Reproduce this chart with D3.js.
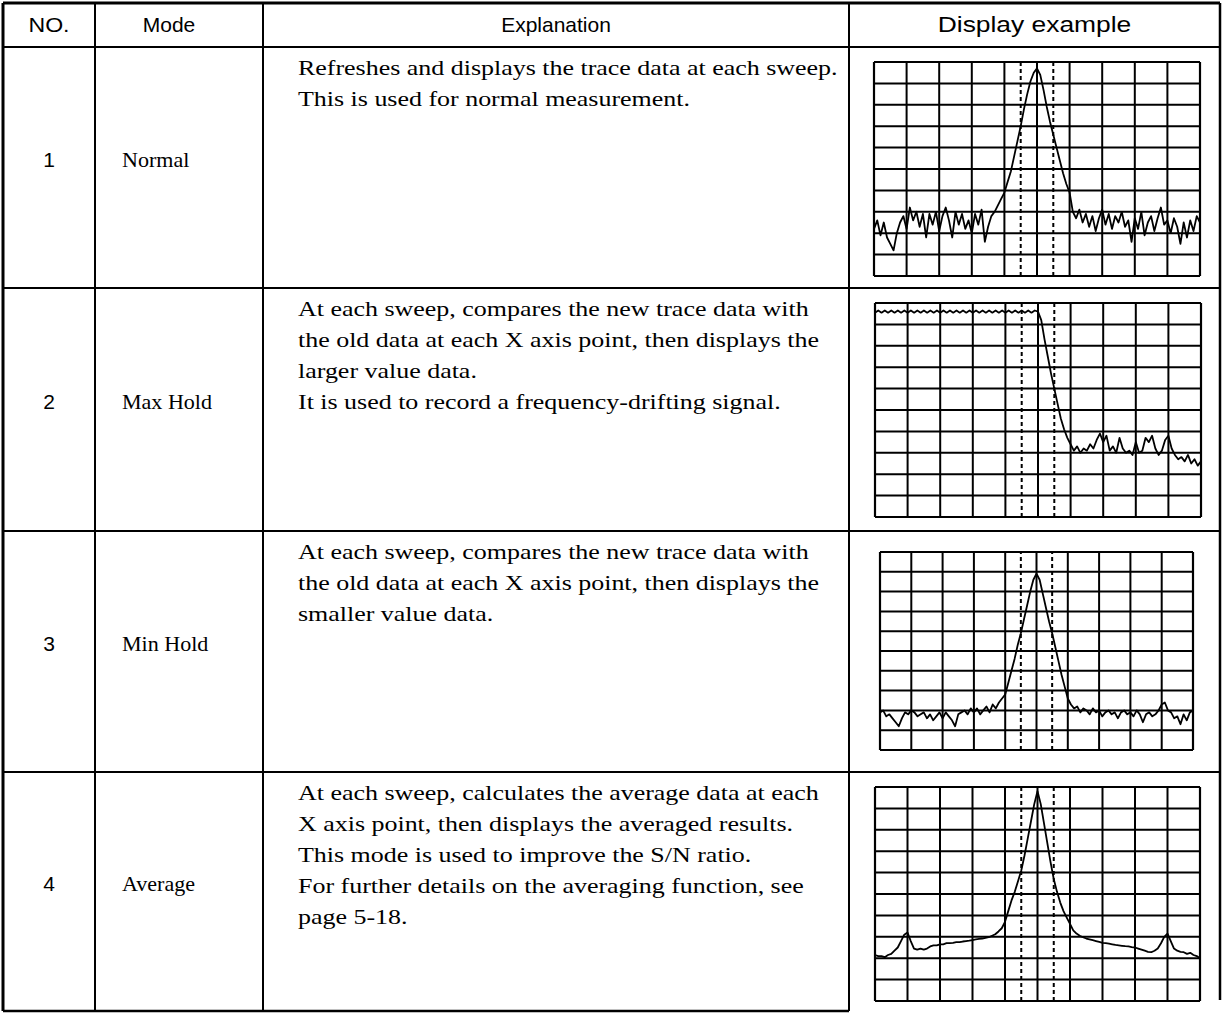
<!DOCTYPE html>
<html><head><meta charset="utf-8">
<script src="https://cdn.jsdelivr.net/npm/d3@7"></script>
<style>html,body{margin:0;padding:0;background:#fff;}svg{display:block;}</style>
</head><body>
<script>
// ---------- data ----------
const headers = ["NO.", "Mode", "Explanation", "Display example"];
const numbers = ["1", "2", "3", "4"];
const modes = ["Normal", "Max Hold", "Min Hold", "Average"];
const explanations = [
  ["Refreshes and displays the trace data at each sweep.",
   "This is used for normal measurement."],
  ["At each sweep, compares the new trace data with",
   "the old data at each X axis point, then displays the",
   "larger value data.",
   "It is used to record a frequency-drifting signal."],
  ["At each sweep, compares the new trace data with",
   "the old data at each X axis point, then displays the",
   "smaller value data."],
  ["At each sweep, calculates the average data at each",
   "X axis point, then displays the averaged results.",
   "This mode is used to improve the S/N ratio.",
   "For further details on the averaging function, see",
   "page 5-18."]
];
// trace levels in divisions above the bottom graticule line, one per 0.1 division (0..10)
const traceNormal = [2.2,2.6,1.9,2.5,1.8,1.5,1.2,2.0,2.5,2.8,2.2,3.2,2.6,3.0,2.3,2.9,1.8,2.9,2.4,3.0,
  2.1,2.8,3.2,2.6,1.8,3.0,2.4,2.9,2.2,2.6,2.0,2.9,2.4,3.1,1.6,2.3,2.8,3.0,3.3,3.6,
  3.9,4.4,4.9,5.6,6.3,7.0,7.8,8.5,9.1,9.5,9.7,9.4,8.7,7.9,7.2,6.6,6.0,5.4,4.8,4.3,
  3.9,3.0,2.7,3.1,2.5,2.9,2.3,2.8,2.1,2.7,3.1,2.4,2.9,2.2,2.8,2.5,3.0,2.3,2.6,1.6,
  2.7,2.2,3.0,1.9,2.5,2.8,2.1,2.7,3.2,2.4,2.6,2.0,2.7,2.3,1.5,2.5,1.8,2.6,2.1,2.8,2.5];
const traceMaxHold = [9.55,9.65,9.55,9.65,9.55,9.65,9.55,9.65,9.55,9.65,9.55,9.65,9.55,9.65,9.55,9.65,9.55,9.65,9.55,9.65,
  9.55,9.65,9.55,9.65,9.55,9.65,9.55,9.65,9.55,9.65,9.55,9.65,9.55,9.65,9.55,9.65,9.55,9.65,9.55,9.65,
  9.55,9.65,9.55,9.65,9.55,9.65,9.55,9.65,9.55,9.65,9.6,9.2,8.3,7.5,6.7,6.0,5.3,4.6,4.1,3.7,
  3.4,3.1,3.3,3.0,3.2,3.1,3.4,3.2,3.6,3.9,3.5,3.8,3.1,3.3,3.0,3.7,3.2,3.0,3.1,2.9,
  3.5,3.0,3.1,3.7,3.5,3.8,3.2,2.9,3.1,3.6,3.8,3.2,2.9,2.7,2.8,2.6,2.9,2.5,2.7,2.4,2.6];
const traceMinHold = [1.9,2.0,1.7,1.8,1.6,1.4,1.2,1.6,1.9,1.8,2.0,1.9,1.7,1.8,1.9,1.6,1.8,1.5,1.7,1.9,
  1.6,1.9,1.7,1.5,1.2,1.8,1.9,2.0,1.8,2.1,1.9,2.1,1.8,2.0,2.2,1.9,2.3,2.1,2.4,2.6,
  2.8,3.4,4.0,4.6,5.3,5.9,6.6,7.3,8.0,8.6,8.9,8.6,7.9,7.2,6.5,5.9,5.2,4.5,3.8,3.2,
  2.6,2.3,2.1,2.2,1.9,2.1,2.0,1.8,2.1,1.9,2.0,1.7,1.9,2.0,1.8,1.9,1.6,1.9,2.0,1.8,
  1.9,1.7,2.0,1.8,1.4,1.8,1.9,1.7,1.8,2.0,2.3,2.4,2.0,1.9,1.6,1.7,1.3,1.8,1.5,1.9,2.0];
const traceAverage = [2.15,2.1,2.1,2.05,2.15,2.2,2.35,2.5,2.8,3.1,3.2,2.8,2.45,2.4,2.45,2.4,2.45,2.55,2.6,2.6,
  2.65,2.65,2.7,2.7,2.72,2.75,2.75,2.78,2.8,2.82,2.85,2.88,2.9,2.92,2.95,2.98,3.05,3.12,3.25,3.4,
  3.7,4.2,4.7,5.1,5.6,6.1,6.8,7.6,8.4,9.2,9.8,9.2,8.3,7.4,6.5,5.7,5.1,4.6,4.2,3.9,
  3.6,3.3,3.15,3.05,2.98,2.92,2.88,2.84,2.8,2.76,2.72,2.7,2.68,2.65,2.62,2.6,2.58,2.56,2.55,2.52,
  2.5,2.45,2.4,2.35,2.3,2.28,2.35,2.45,2.7,3.0,3.15,2.8,2.45,2.35,2.3,2.28,2.2,2.25,2.15,2.1,2.0];
const traces = [traceNormal, traceMaxHold, traceMinHold, traceAverage];
const gridDivisions = [0,1,2,3,4,5,6,7,8,9,10];
const markerDivisions = [4.5, 5.5];

// ---------- layout ----------
const W = 1225, H = 1014;
const colX = [3, 95, 263, 849, 1220];
const rowY = [3, 47, 288, 531, 772, 1011];
const screens = [
  {x0: 874, x1: 1200, y0: 62,  y1: 276},
  {x0: 875, x1: 1201, y0: 303, y1: 517},
  {x0: 880, x1: 1193, y0: 552, y1: 750},
  {x0: 875, x1: 1200, y0: 787, y1: 1001}
];
const sans = "'Liberation Sans', Arial, sans-serif";
const serif = "'Liberation Serif', 'Times New Roman', serif";
const headerSize = [21, 21, 21, 22], headerStretch = [1.1, 1, 1, 1.2], headerShift = [0, -10, 0, 0];
const bodySize = 22, bodyStretch = 1.18;
const modeSize = 21, modeStretch = 1.05;

const svg = d3.select("body").append("svg").attr("width", W).attr("height", H);
svg.append("rect").attr("width", W).attr("height", H).attr("fill", "#fff");

// table lines
const tl = svg.append("g").attr("stroke", "#000").attr("fill", "none");
tl.append("line").attr("x1", colX[0]).attr("x2", colX[4]).attr("y1", rowY[0]).attr("y2", rowY[0]).attr("stroke-width", 3);
tl.append("line").attr("x1", colX[0]).attr("x2", colX[0]).attr("y1", rowY[0]).attr("y2", rowY[5]).attr("stroke-width", 3);
tl.append("line").attr("x1", colX[4]).attr("x2", colX[4]).attr("y1", rowY[0]).attr("y2", 1000).attr("stroke-width", 2.5);
tl.append("line").attr("x1", colX[0]).attr("x2", colX[3]).attr("y1", rowY[5]).attr("y2", rowY[5]).attr("stroke-width", 2.5);
[1,2,3].forEach(i => tl.append("line").attr("x1", colX[i]).attr("x2", colX[i]).attr("y1", rowY[0]).attr("y2", rowY[5]).attr("stroke-width", 2));
[1,2,3,4].forEach(i => tl.append("line").attr("x1", colX[0]).attr("x2", colX[4]).attr("y1", rowY[i]).attr("y2", rowY[i]).attr("stroke-width", 2));

function stretchedText(x, y, str, family, size, sx, anchor) {
  return svg.append("text").attr("transform", `translate(${x},${y}) scale(${sx},1)`)
    .attr("text-anchor", anchor || "start").attr("font-family", family).attr("font-size", size).text(str);
}

// header
headers.forEach((h, i) => {
  stretchedText((colX[i] + colX[i+1]) / 2 + headerShift[i], (rowY[0] + rowY[1]) / 2 + 7, h, sans, headerSize[i], headerStretch[i], "middle");
});

// rows
numbers.forEach((n, r) => {
  const top = rowY[r+1], bot = rowY[r+2], mid = (top + bot) / 2 - 8;
  stretchedText((colX[0] + colX[1]) / 2, mid + 7, n, sans, 21, 1, "middle");
  stretchedText(122, mid + 7, modes[r], serif, modeSize, modeStretch);
  explanations[r].forEach((line, k) => {
    stretchedText(298, top + 28 + k * 31, line, serif, bodySize, bodyStretch);
  });

  // display example
  const s = screens[r];
  const x = d3.scaleLinear().domain([0, 10]).range([s.x0, s.x1]);
  const y = d3.scaleLinear().domain([0, 10]).range([s.y1, s.y0]);
  const g = svg.append("g");
  g.selectAll("line.h").data(gridDivisions).join("line").attr("class", "h")
    .attr("x1", x(0)).attr("x2", x(10)).attr("y1", d => y(d)).attr("y2", d => y(d))
    .attr("stroke", "#000").attr("stroke-width", d => (d === 0 || d === 10) ? 2.2 : 2);
  g.selectAll("line.v").data(gridDivisions).join("line").attr("class", "v")
    .attr("x1", d => x(d)).attr("x2", d => x(d)).attr("y1", y(0)).attr("y2", y(10))
    .attr("stroke", "#000").attr("stroke-width", d => (d === 0 || d === 10) ? 2.2 : 2);
  g.selectAll("line.m").data(markerDivisions).join("line").attr("class", "m")
    .attr("x1", d => x(d)).attr("x2", d => x(d)).attr("y1", y(0)).attr("y2", y(10))
    .attr("stroke", "#000").attr("stroke-width", 2).attr("stroke-dasharray", "4,3");
  const line = d3.line().x((d, i) => x(i / 10)).y(d => y(d));
  g.append("path").datum(traces[r]).attr("d", line)
    .attr("fill", "none").attr("stroke", "#000").attr("stroke-width", 1.8).attr("stroke-linejoin", "round");
});
</script>
</body></html>
